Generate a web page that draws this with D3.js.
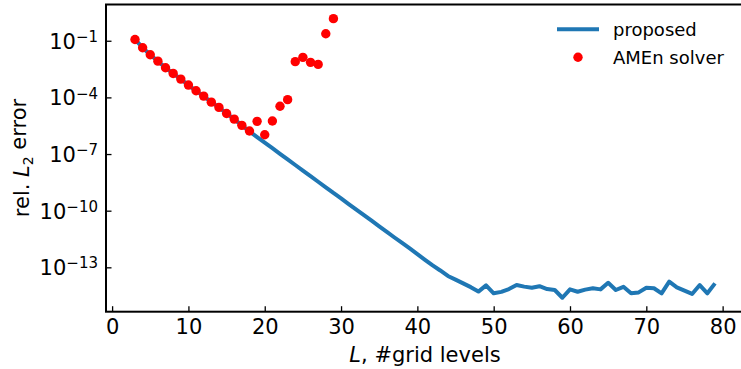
<!DOCTYPE html>
<html><head><meta charset="utf-8">
<script src="https://cdn.jsdelivr.net/npm/d3@7"></script>
<style>body{margin:0;background:#fff}svg{display:block}text{font-family:"DejaVu Sans",sans-serif}</style>
</head><body>
<script>
// proposed: L = 3..79
const proposedL = d3.range(3, 80);
const proposedErr = [
 1.17e-1,4.27e-2,1.82e-2,8.3e-3,3.7e-3,1.86e-3,9.3e-4,4.5e-4,2.24e-4,1.17e-4,
 5.6e-5,2.95e-5,1.41e-5,7.1e-6,3.3e-6,1.58e-6,7.9e-7,4.0e-7,2.04e-7,1.02e-7,
 5.2e-8,2.63e-8,1.32e-8,6.8e-9,3.4e-9,1.74e-9,8.7e-10,4.5e-10,2.24e-10,1.15e-10,
 5.8e-11,2.95e-11,1.48e-11,7.6e-12,3.8e-12,1.95e-12,1.0e-12,5.0e-13,2.5e-13,1.26e-13,
 6.8e-14,3.5e-14,2.24e-14,1.41e-14,8.9e-15,5.2e-15,1.1e-14,4.2e-15,5.0e-15,7.1e-15,
 1.15e-14,9.5e-15,8.3e-15,1.0e-14,7.1e-15,6.3e-15,2.45e-15,6.8e-15,5.1e-15,6.6e-15,
 7.8e-15,6.8e-15,1.51e-14,6.3e-15,9.3e-15,4.2e-15,4.7e-15,8.3e-15,7.8e-15,4.2e-15,
 1.74e-14,8.7e-15,5.8e-15,3.9e-15,1.15e-14,4.2e-15,1.41e-14
];
// AMEn solver: L = 3..29
const amenL = d3.range(3, 30);
const amenErr = [
 1.17e-1,4.27e-2,1.82e-2,8.3e-3,3.7e-3,1.86e-3,9.3e-4,4.5e-4,2.24e-4,1.17e-4,
 5.6e-5,2.95e-5,1.41e-5,7.1e-6,3.3e-6,1.66e-6,5.4e-6,1.05e-6,5.6e-6,3.4e-5,
 7.6e-5,7.8e-3,1.32e-2,7.2e-3,5.6e-3,0.234,1.48
];
const xTicks = [0,10,20,30,40,50,60,70,80];
const yTickExps = [-1,-4,-7,-10,-13];
const legendLabels = ["proposed", "AMEn solver"];

const W = 741, H = 369;
const mLeft = 106, mTop = 4.5, mBottom = 311.7, mRight = 744;
const FS = 21;
const svg = d3.select("body").append("svg").attr("width", W).attr("height", H);

const x = d3.scaleLinear().domain([-0.8, 82.8]).range([mLeft, mRight]);
const y = d3.scaleLog().domain([Math.pow(10,-15.35), Math.pow(10,0.92)]).range([mBottom, mTop]);

svg.append("clipPath").attr("id","c").append("rect")
  .attr("x", mLeft).attr("y", mTop).attr("width", mRight-mLeft).attr("height", mBottom-mTop);

const g = svg.append("g").attr("clip-path","url(#c)");
const line = d3.line().x((d,i)=>x(proposedL[i])).y(d=>y(d));
g.append("path").datum(proposedErr).attr("d", line)
  .attr("fill","none").attr("stroke","#1f77b4").attr("stroke-width",4).attr("stroke-linejoin","round");
g.selectAll("circle").data(amenErr).join("circle")
  .attr("cx",(d,i)=>x(amenL[i])).attr("cy",d=>y(d)).attr("r",4.7).attr("fill","#ff0000");

// axes (ticks inward)
const xAxis = d3.axisBottom(x).tickValues(xTicks).tickSizeInner(-5.5).tickSizeOuter(0).tickFormat(d3.format("d"));
const xg = svg.append("g").attr("transform",`translate(0,${mBottom})`).call(xAxis);
xg.select(".domain").remove();
xg.selectAll(".tick line").attr("stroke","#000").attr("stroke-width",1.3);
xg.selectAll(".tick text").attr("font-size",FS).attr("fill","#000").attr("y",22.3).attr("dy",0).attr("font-family","DejaVu Sans");

const yAxis = d3.axisLeft(y).tickValues(yTickExps.map(e=>Math.pow(10,e))).tickSizeInner(-5.5).tickSizeOuter(0).tickFormat("");
const yg = svg.append("g").attr("transform",`translate(${mLeft},0)`).call(yAxis);
yg.select(".domain").remove();
yg.selectAll(".tick line").attr("stroke","#000").attr("stroke-width",1.3);
yg.selectAll(".tick").each(function(d,i){
  const t = d3.select(this).append("text").attr("x",-8).attr("dy","0.35em")
    .attr("text-anchor","end").attr("fill","#000").attr("font-size",FS).attr("font-family","DejaVu Sans");
  t.append("tspan").text("10");
  t.append("tspan").attr("dy","-0.45em").attr("font-size",15).text("\u2212" + Math.abs(yTickExps[i]));
});

// spines
svg.append("rect").attr("x",mLeft).attr("y",mTop).attr("width",mRight-mLeft).attr("height",mBottom-mTop)
  .attr("fill","none").attr("stroke","#000").attr("stroke-width",2);

// axis labels
const xl = svg.append("text").attr("x",425).attr("y",362).attr("text-anchor","middle")
  .attr("font-size",FS).attr("fill","#000");
xl.append("tspan").attr("font-style","italic").text("L");
xl.append("tspan").text(", #grid levels");

const yl = svg.append("text").attr("transform",`translate(28.5,158) rotate(-90)`)
  .attr("text-anchor","middle").attr("font-size",FS).attr("fill","#000");
yl.append("tspan").text("rel. ");
yl.append("tspan").attr("font-style","italic").text("L");
yl.append("tspan").attr("font-size",14).attr("dy","0.3em").text("2");
yl.append("tspan").attr("dy","-0.3em").text(" error");

// legend
const lg = svg.append("g");
lg.append("line").attr("x1",557).attr("x2",599).attr("y1",29.3).attr("y2",29.3)
  .attr("stroke","#1f77b4").attr("stroke-width",4);
lg.append("text").attr("x",613).attr("y",29.3).attr("dy","0.35em").attr("font-size",18).attr("fill","#000").text(legendLabels[0]);
lg.append("circle").attr("cx",578).attr("cy",57.3).attr("r",4.7).attr("fill","#ff0000");
lg.append("text").attr("x",613).attr("y",57.3).attr("dy","0.35em").attr("font-size",18).attr("fill","#000").text(legendLabels[1]);
</script>
</body></html>
